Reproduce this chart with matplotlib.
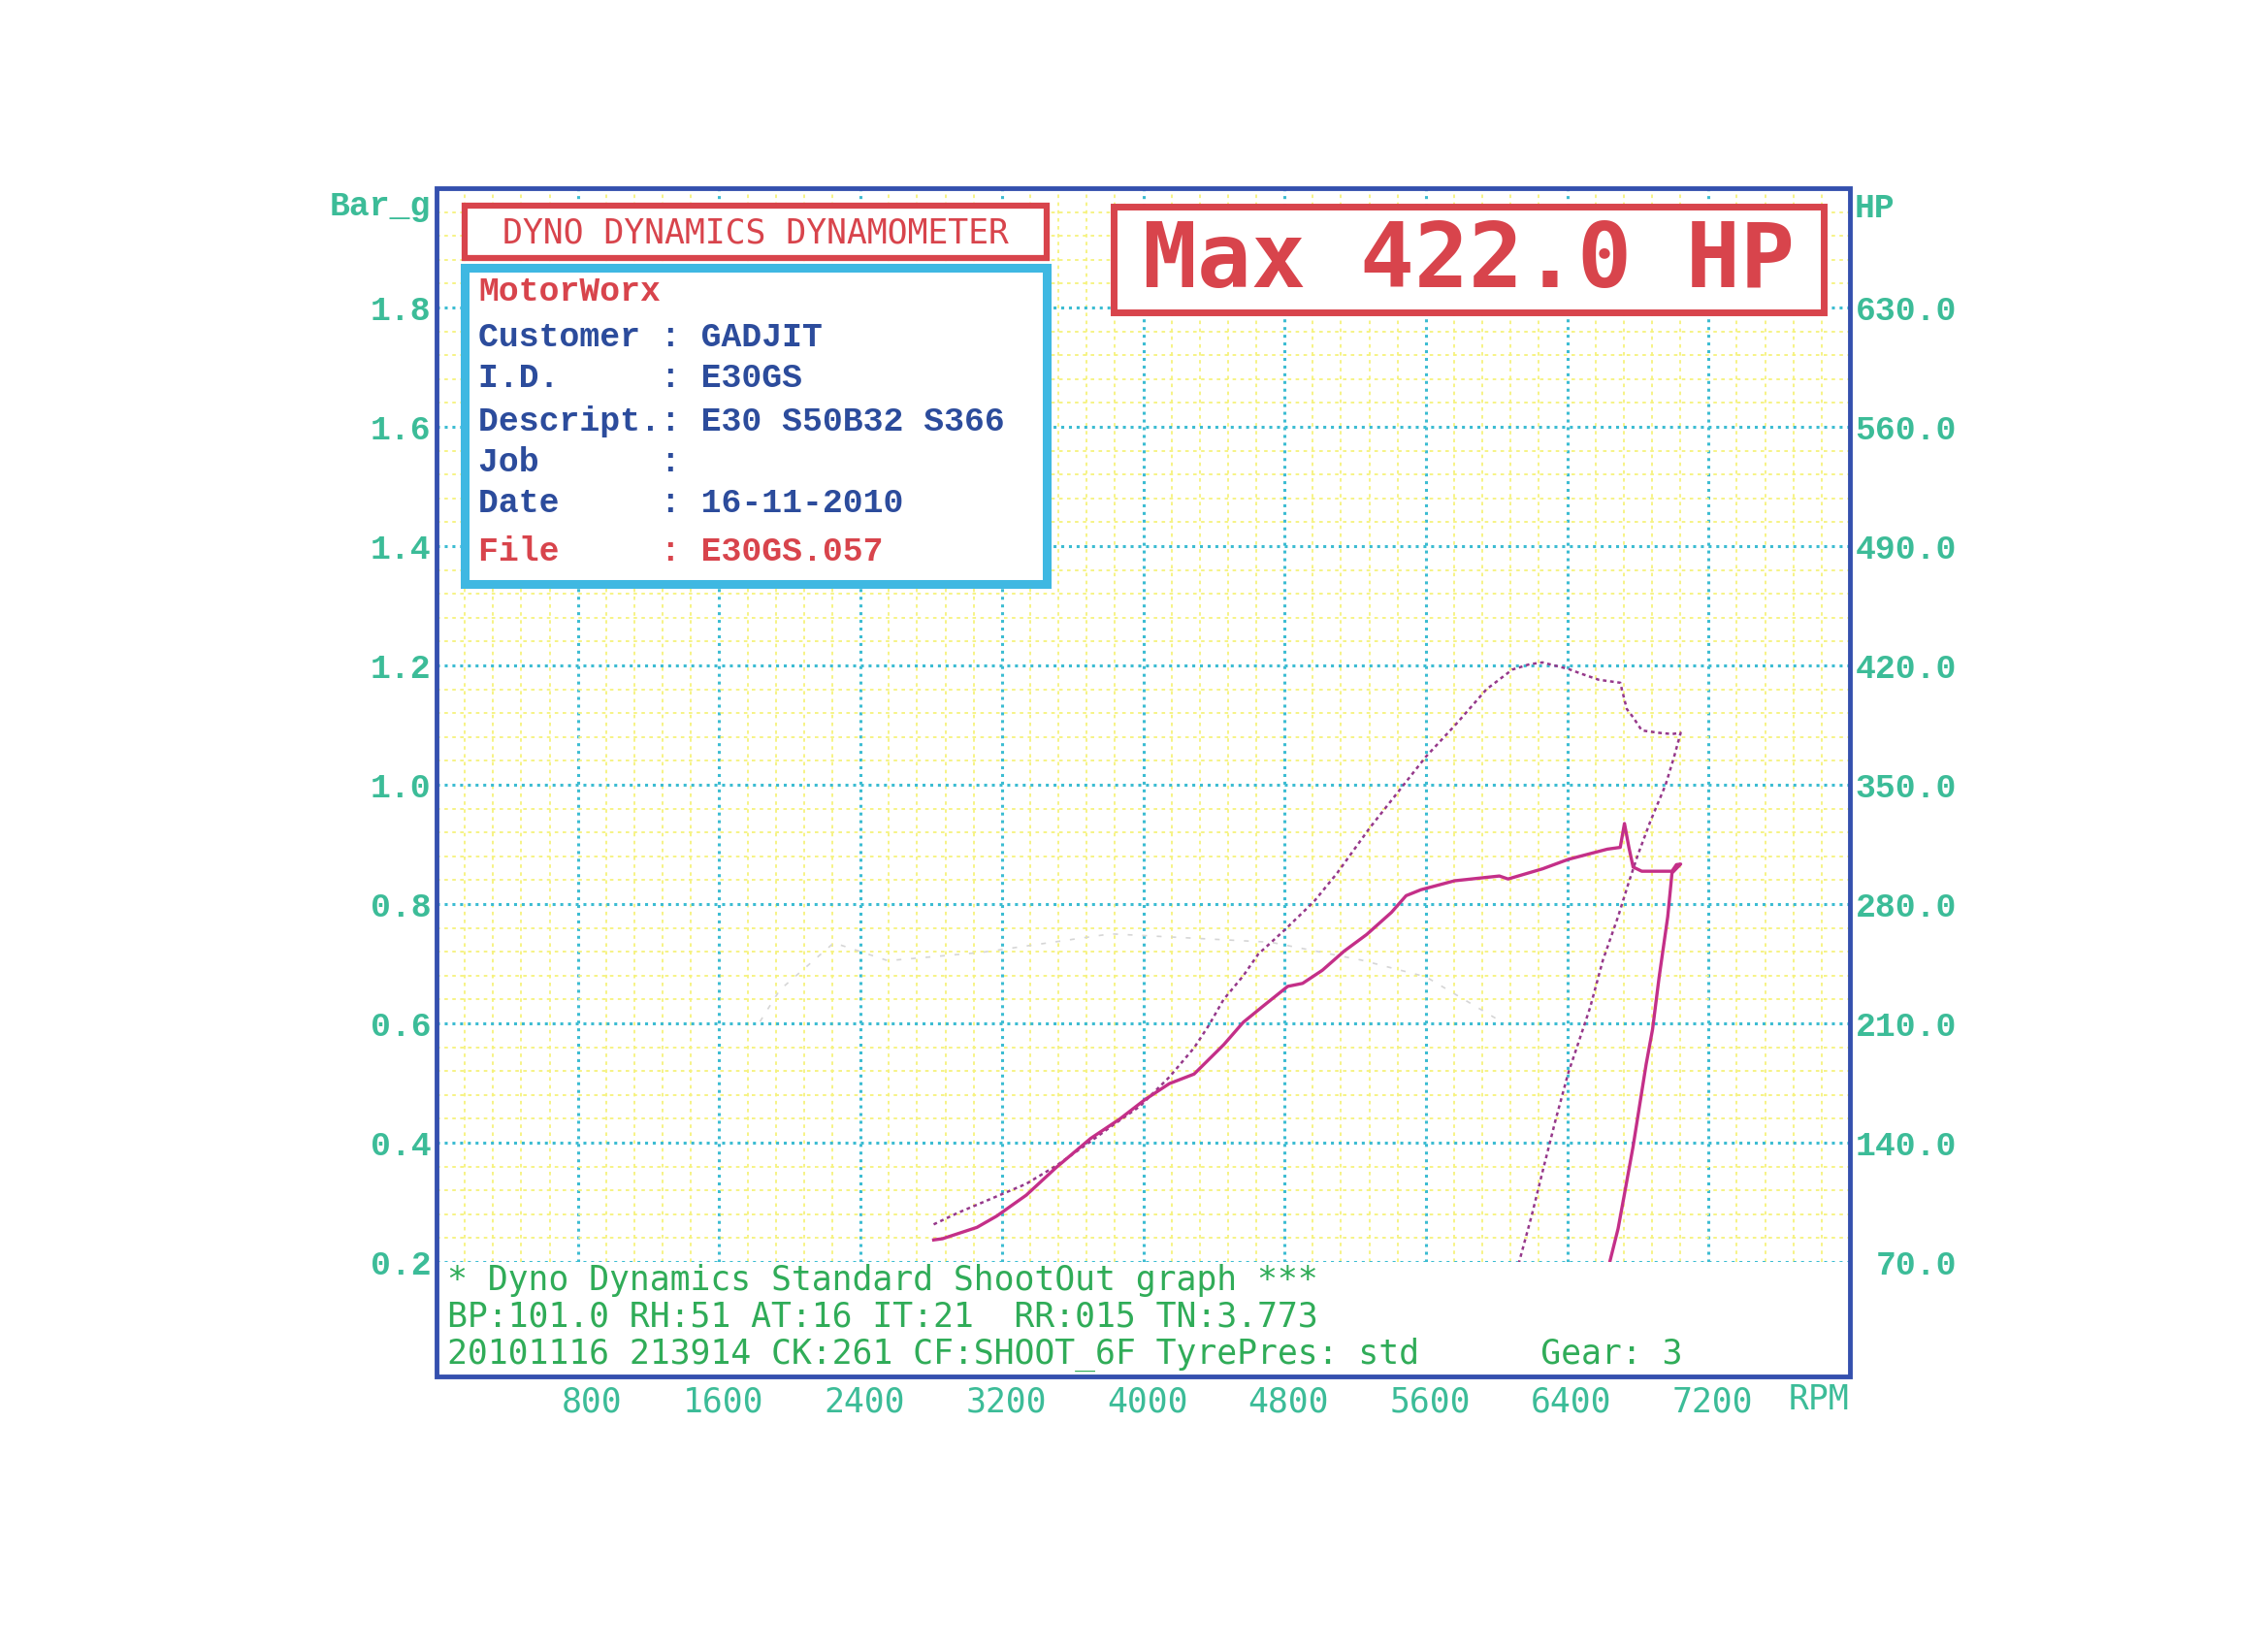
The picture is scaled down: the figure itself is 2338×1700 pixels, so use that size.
import numpy as np
import matplotlib.pyplot as plt
from matplotlib.patches import Rectangle
from matplotlib.transforms import ScaledTranslation

# Eixos do dinamometro
rpm_ticks = [800, 1600, 2400, 3200, 4000, 4800, 5600, 6400, 7200]
bar_ticks = [0.2, 0.4, 0.6, 0.8, 1.0, 1.2, 1.4, 1.6, 1.8]
bar_labels = ['0.2', '0.4', '0.6', '0.8', '1.0', '1.2', '1.4', '1.6', '1.8']
hp_ticks = [70, 140, 210, 280, 350, 420, 490, 560, 630]
hp_labels = ['70.0', '140.0', '210.0', '280.0', '350.0', '420.0', '490.0', '560.0', '630.0']

# Curva de potencia (pontilhada), na escala Bar_g, incluindo a desaceleracao
pwr_rpm = [2814, 2948, 3171, 3338, 3506, 3674, 3841, 3981, 4148, 4288, 4372, 4455,
           4567, 4651, 4795, 4966, 5098, 5283, 5600, 5772, 5943, 6089, 6187, 6260,
           6407, 6480, 6578, 6700, 6737, 6773, 6822, 6920, 6993, 7042,
           7005, 6957, 6871, 6798, 6749, 6688, 6602, 6529, 6456, 6407, 6334, 6260,
           6199, 6126]
pwr_bar = [0.263, 0.282, 0.310, 0.331, 0.361, 0.396, 0.432, 0.461, 0.510, 0.559, 0.597, 0.640,
           0.680, 0.716, 0.755, 0.804, 0.852, 0.928, 1.047, 1.102, 1.160, 1.193, 1.202, 1.205,
           1.194, 1.186, 1.176, 1.171, 1.127, 1.113, 1.091, 1.087, 1.085, 1.087,
           1.047, 1.000, 0.939, 0.881, 0.837, 0.779, 0.706, 0.626, 0.561, 0.518, 0.438, 0.351,
           0.278, 0.198]

# Pressao do turbo (linha cheia)
boost_rpm = [2814, 2864, 3059, 3171, 3338, 3506, 3702, 3869, 4009, 4148, 4288, 4455,
             4567, 4679, 4818, 4902, 5014, 5137, 5265, 5405, 5488, 5572, 5762, 6016,
             6065, 6260, 6407, 6627, 6700, 6724, 6749, 6773, 6822, 6993, 7018, 7042,
             6993, 6969, 6920, 6883, 6847, 6773, 6724, 6688, 6639]
boost_bar = [0.237, 0.239, 0.258, 0.277, 0.312, 0.358, 0.407, 0.440, 0.472, 0.499, 0.515, 0.564,
             0.602, 0.629, 0.662, 0.667, 0.689, 0.721, 0.749, 0.786, 0.814, 0.824, 0.839, 0.847,
             0.842, 0.859, 0.875, 0.892, 0.895, 0.935, 0.895, 0.862, 0.855, 0.855, 0.866, 0.867,
             0.852, 0.779, 0.677, 0.590, 0.532, 0.394, 0.314, 0.256, 0.198]

# Traco fraco (fantasma do scan)
ghost_rpm = [1831, 1943, 2249, 2555, 3086, 3817, 4721, 5235, 5600, 6043]
ghost_bar = [0.603, 0.656, 0.735, 0.705, 0.719, 0.750, 0.736, 0.706, 0.678, 0.600]

info_lines = [
    ('MotorWorx', 'red'),
    ('Customer : GADJIT', 'blue'),
    ('I.D.     : E30GS', 'blue'),
    ('Descript.: E30 S50B32 S366', 'blue'),
    ('Job      :', 'blue'),
    ('Date     : 16-11-2010', 'blue'),
    ('File     : E30GS.057', 'red'),
]
footer_lines = [
    '* Dyno Dynamics Standard ShootOut graph ***',
    'BP:101.0 RH:51 AT:16 IT:21  RR:015 TN:3.773',
    '20101116 213914 CK:261 CF:SHOOT_6F TyrePres: std      Gear: 3',
]

RED = '#d8444c'
BLUE_TXT = '#2c4c9c'
CYAN = '#3fb8e2'
TEAL = '#3cbc98'
GREEN = '#30ac58'
FRAME = '#3450ae'

W, H = 2338, 1700
fig = plt.figure(figsize=(W / 100, H / 100), dpi=100)
fig.patch.set_facecolor('white')

ax = fig.add_axes([450 / W, 1 - 1301 / H, 1457 / W, (1301 - 194) / H])
ax.set_xlim(0, 8000)
ax.set_ylim(0.2, 2.0)
ax.set_axisbelow(True)
for s in ax.spines.values():
    s.set_visible(False)

ax.set_xticks(rpm_ticks, [str(r) for r in rpm_ticks])
ax.set_xticks(np.arange(0, 8001, 160), minor=True)
ax.set_yticks(bar_ticks, bar_labels)
ax.set_yticks(np.arange(0.2, 2.0001, 0.04), minor=True)
ax.grid(which='minor', color='#f6f27c', ls=(0, (2, 2.5)), lw=1.3)
ax.grid(which='major', color='#3cbcd2', ls=(0, (1, 1.6)), lw=2.2)
ax.tick_params(which='both', length=0)
ax.tick_params(axis='y', pad=4, labelcolor=TEAL)
ax.tick_params(axis='x', pad=92, labelcolor=TEAL)
for lab in ax.get_yticklabels():
    lab.set_fontfamily('Liberation Mono')
    lab.set_fontweight('bold')
    lab.set_fontsize(25)
xoff = ScaledTranslation(0.46, 0, fig.dpi_scale_trans)
for lab in ax.get_xticklabels():
    lab.set_fontfamily('DejaVu Sans Mono')
    lab.set_fontsize(25)
    lab.set_horizontalalignment('right')
    lab.set_transform(lab.get_transform() + xoff)

ax2 = ax.twinx()
ax2.set_ylim(70, 700)
for s in ax2.spines.values():
    s.set_visible(False)
ax2.set_yticks(hp_ticks, hp_labels)
ax2.tick_params(length=0, pad=0, labelcolor=TEAL)
roff = ScaledTranslation(1.10, 0, fig.dpi_scale_trans)
for lab in ax2.get_yticklabels():
    lab.set_fontfamily('Liberation Mono')
    lab.set_fontweight('bold')
    lab.set_fontsize(25)
    lab.set_horizontalalignment('right')
    lab.set_transform(lab.get_transform() + roff)

# curvas
ax.plot(ghost_rpm, ghost_bar, color='#d6d6d6', lw=1.2, ls=(0, (3, 6)), zorder=2)
ax.plot(pwr_rpm, pwr_bar, color='#96388a', lw=1.8, ls=(0, (1.5, 1.5)), zorder=3)
ax.plot(boost_rpm, boost_bar, color='#c42f88', lw=2.4, zorder=4)

# camada de sobreposicao em pixels
ov = fig.add_axes([0, 0, 1, 1])
ov.set_xlim(0, W)
ov.set_ylim(H, 0)
ov.axis('off')
ov.patch.set_alpha(0)

ov.add_patch(Rectangle((450, 194), 1457, 1225, fill=False, ec=FRAME, lw=3.5))

ov.add_patch(Rectangle((479, 212), 600, 54, fc='white', ec=RED, lw=4.5))
ov.text(779, 240, 'DYNO DYNAMICS DYNAMOMETER', color=RED, fontsize=25,
        family='DejaVu Sans Mono', ha='center', va='center')

ov.add_patch(Rectangle((479, 276), 600, 326, fc='white', ec=CYAN, lw=6.5))
ys = [300, 347, 389, 434, 476, 519, 568]
for (txt, c), y in zip(info_lines, ys):
    ov.text(493, y, txt, color=RED if c == 'red' else BLUE_TXT, fontsize=25,
            family='Liberation Mono', weight='bold', ha='left', va='center')

ov.add_patch(Rectangle((1148, 213), 732, 109, fc='white', ec=RED, lw=5))
ov.text(1514, 270, 'Max 422.0 HP', color=RED, fontsize=67, weight='bold',
        family='DejaVu Sans Mono', ha='center', va='center')

ov.text(444, 212, 'Bar_g', color=TEAL, fontsize=25, family='Liberation Mono',
        weight='bold', ha='right', va='center')
ov.text(1912, 214, 'HP', color=TEAL, fontsize=25, family='Liberation Mono',
        weight='bold', ha='left', va='center')
ov.text(1844, 1443, 'RPM', color=TEAL, fontsize=25, family='DejaVu Sans Mono',
        ha='left', va='center')

for txt, y in zip(footer_lines, [1320, 1357, 1396]):
    ov.text(461, y, txt, color=GREEN, fontsize=25, family='DejaVu Sans Mono',
            ha='left', va='center')

fig.savefig('out.png', dpi=100, facecolor='white')
